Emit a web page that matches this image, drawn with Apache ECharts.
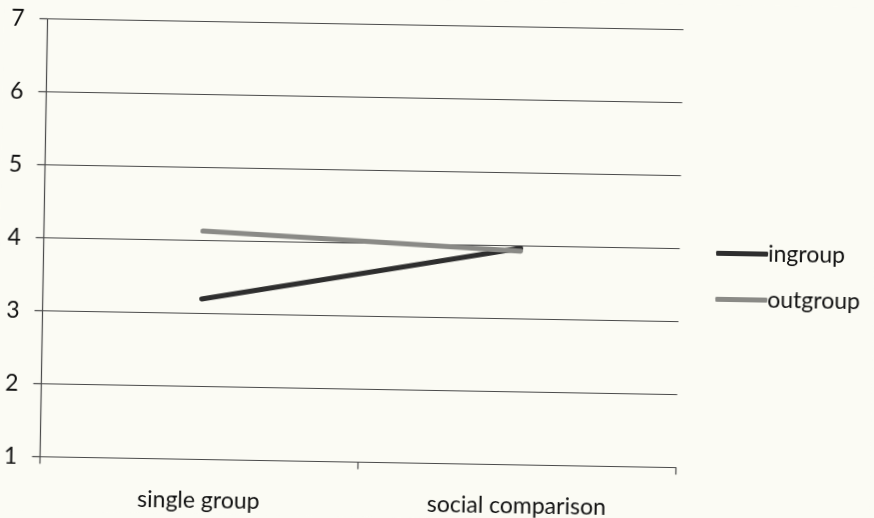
<!DOCTYPE html>
<html>
<head>
<meta charset="utf-8">
<script src="https://cdn.jsdelivr.net/npm/echarts@6/dist/echarts.min.js"></script>
<style>
  html, body { margin: 0; padding: 0; background: #fbfbf4; overflow: hidden; }
  #chart {
    width: 874px; height: 518px;
    /* printed page sits slightly askew on the scanner bed */
    transform: rotate(0.98deg);
    transform-origin: 437px 259px;
  }
</style>
</head>
<body>
<div id="chart"></div>
<script>
const categories = ['single group', 'social comparison'];
const ingroup = [3.2, 3.97];
const outgroup = [4.13, 3.93];
const seriesNames = ['ingroup', 'outgroup'];
const yMin = 1, yMax = 7, yStep = 1;

const FONT = 'Lato';
const ink = '#111111';
const ruleColor = '#4a4a4a';

const chart = echarts.init(document.getElementById('chart'), null, { renderer: 'canvas' });
chart.setOption({
  backgroundColor: '#fbfbf4',
  animation: false,
  grid: { left: 43.5, top: 25.7, right: 194.5, bottom: 54.5, containLabel: false },
  legend: {
    orient: 'vertical',
    left: 711,
    top: 232,
    itemWidth: 52,
    itemHeight: 5,
    itemGap: 23,
    icon: 'roundRect',
    textStyle: { fontFamily: FONT, fontSize: 23, color: ink, padding: [0, 0, 0, -5] },
    data: seriesNames
  },
  xAxis: {
    type: 'category',
    data: categories,
    boundaryGap: true,
    axisLine: { lineStyle: { color: ruleColor, width: 1.2 } },
    axisTick: { show: true, length: 7, inside: false, lineStyle: { color: ruleColor, width: 1.2 } },
    axisLabel: { fontFamily: FONT, fontSize: 23, color: ink, margin: 30 },
    splitLine: { show: false }
  },
  yAxis: {
    type: 'value',
    min: yMin, max: yMax, interval: yStep,
    axisLine: { show: true, lineStyle: { color: ruleColor, width: 1.2 } },
    axisTick: { show: true, length: 8, lineStyle: { color: ruleColor, width: 1.2 } },
    axisLabel: { fontFamily: FONT, fontSize: 23, color: ink, margin: 23 },
    splitLine: { show: true, lineStyle: { color: ruleColor, width: 1.2 } }
  },
  series: [
    {
      name: seriesNames[0], type: 'line', data: ingroup,
      showSymbol: false, symbol: 'none',
      lineStyle: { color: '#2e2e2e', width: 5, cap: 'round' },
      itemStyle: { color: '#2e2e2e' }
    },
    {
      name: seriesNames[1], type: 'line', data: outgroup,
      showSymbol: false, symbol: 'none',
      lineStyle: { color: '#8a8a86', width: 5, cap: 'round' },
      itemStyle: { color: '#8a8a86' }
    }
  ]
});
</script>
</body>
</html>
